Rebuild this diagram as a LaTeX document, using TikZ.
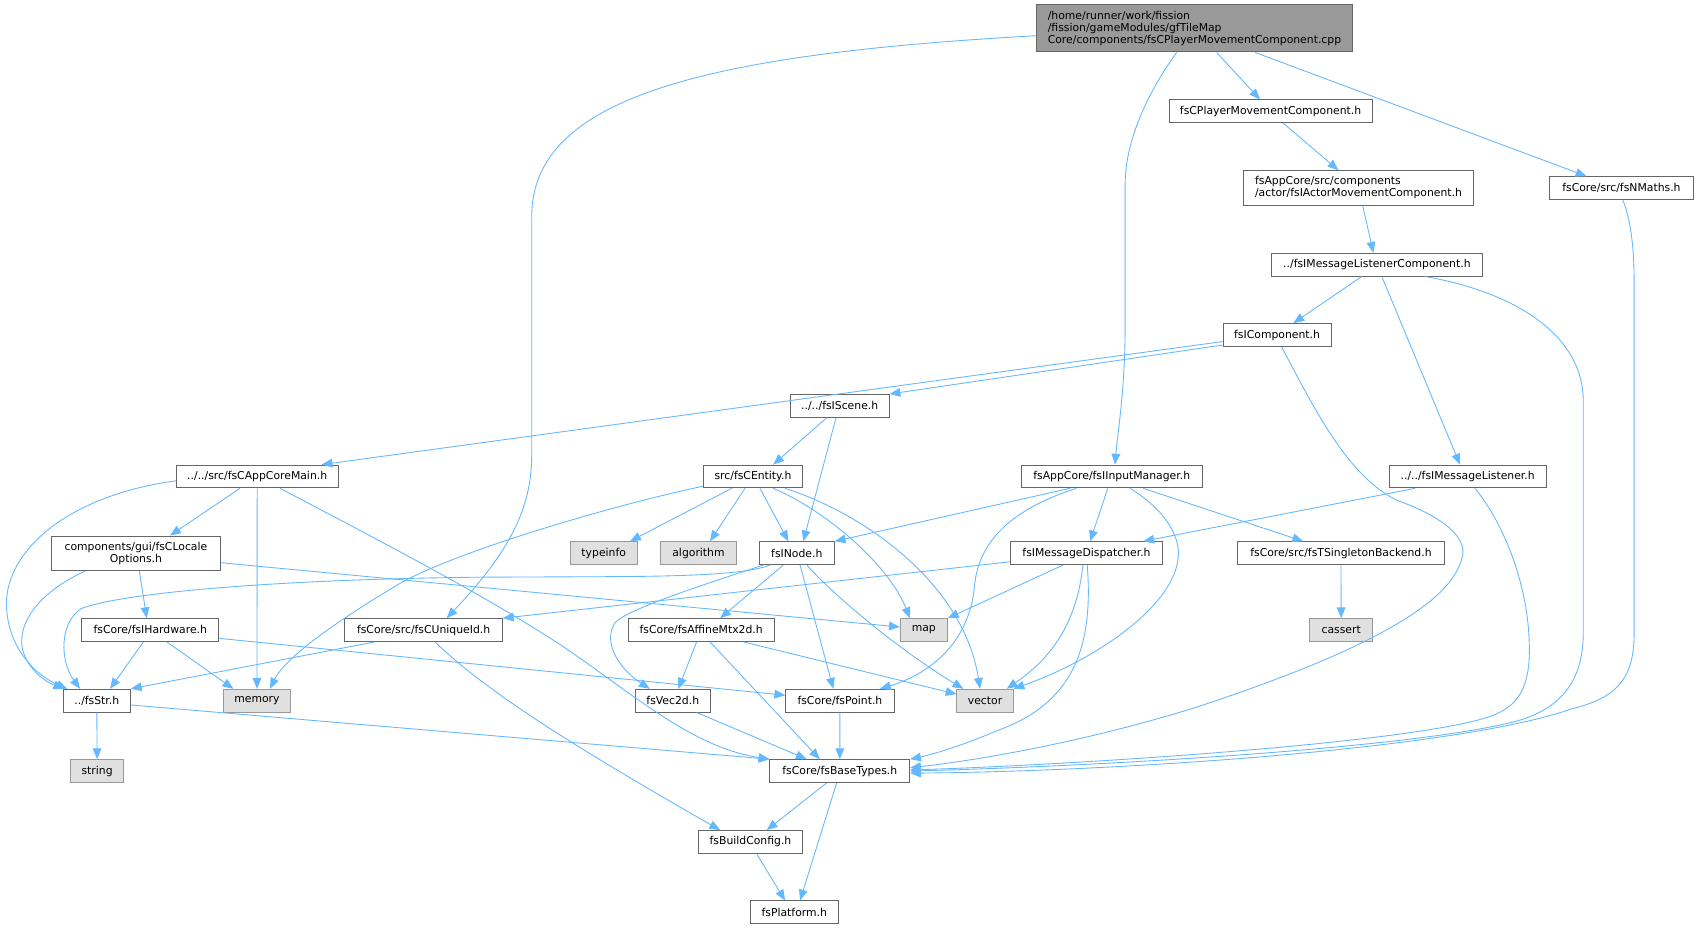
\documentclass[tikz,border=0pt]{standalone}
\usepackage{fontspec}
\setmainfont{DejaVu Sans}
\usetikzlibrary{arrows.meta}
\definecolor{edgec}{HTML}{63B8FF}
\definecolor{bord}{HTML}{666666}
\definecolor{extb}{HTML}{999999}
\definecolor{extf}{HTML}{E0E0E0}
\definecolor{rootf}{HTML}{999999}
\begin{document}
\begin{tikzpicture}[x=1pt,y=-1pt,
  box/.style={draw=bord, fill=white, line width=0.9pt, inner sep=0pt, minimum height=21pt, font=\fontsize{10}{11.2}\selectfont},
  ext/.style={box, draw=extb, fill=extf},
  dep/.style={draw=edgec, line width=0.8pt, -{Triangle[length=10pt,width=8pt]}}]
\fill[white] (0,0) rectangle (1568,858);
\useasboundingbox (0,0) rectangle (1568,858);
% nodes
\node[box, fill=rootf, align=left, minimum width=292pt, minimum height=43.4pt] (root) at (1103,26.3) {/home/runner/work/fission\\/fission/gameModules/gfTileMap\\Core/components/fsCPlayerMovementComponent.cpp};
\node[box, minimum width=187.5pt] (cpmc) at (1173.3,102.8) {fsCPlayerMovementComponent.h};
\node[box, align=left, minimum width=212pt, minimum height=31.7pt] (iamc) at (1254.5,173.5) {fsAppCore/src/components\\/actor/fsIActorMovementComponent.h};
\node[box, minimum width=132.7pt] (nmaths) at (1497.3,173.7) {fsCore/src/fsNMaths.h};
\node[box, minimum width=194.5pt] (imlc) at (1271.5,244.4) {../fsIMessageListenerComponent.h};
\node[box, minimum width=99.7pt] (icomp) at (1179.3,309.4) {fsIComponent.h};
\node[box, minimum width=91.2pt] (iscene) at (775.4,374.8) {../../fsIScene.h};
\node[box, minimum width=149.3pt] (appmain) at (237.5,440) {../../src/fsCAppCoreMain.h};
\node[box, minimum width=91.7pt] (centity) at (695.3,440) {src/fsCEntity.h};
\node[box, minimum width=167pt] (iinput) at (1026.6,440) {fsAppCore/fsIInputManager.h};
\node[box, minimum width=145.3pt] (imlis) at (1355.3,440) {../../fsIMessageListener.h};
\node[box, align=center, minimum width=155.5pt, minimum height=32pt] (locale) at (125.5,511) {components/gui/fsCLocale\\Options.h};
\node[ext, minimum width=61.5pt] (typeinfo) at (557.5,510.8) {typeinfo};
\node[ext, minimum width=69.3pt] (algorithm) at (645,510.8) {algorithm};
\node[box, minimum width=69.2pt] (inode) at (735.8,510.8) {fsINode.h};
\node[box, minimum width=140.7pt] (idisp) at (1003.3,510.8) {fsIMessageDispatcher.h};
\node[box, minimum width=191.4pt] (tsing) at (1238.3,510.8) {fsCore/src/fsTSingletonBackend.h};
\node[box, minimum width=126.8pt] (ihw) at (138.8,581.8) {fsCore/fsIHardware.h};
\node[box, minimum width=145.3pt] (uid) at (391.2,581.8) {fsCore/src/fsCUniqueId.h};
\node[box, minimum width=134.6pt] (affine) at (647.5,581.8) {fsCore/fsAffineMtx2d.h};
\node[ext, minimum width=43.4pt] (map) at (853.1,581.8) {map};
\node[ext, minimum width=58.2pt] (cassert) at (1238.5,581.8) {cassert};
\node[box, minimum width=61.9pt] (str) at (89.4,647) {../fsStr.h};
\node[ext, minimum width=61.5pt] (memory) at (237.3,647) {memory};
\node[box, minimum width=69.3pt] (vec2d) at (621.3,647) {fsVec2d.h};
\node[box, minimum width=100.1pt] (point) at (775.6,647) {fsCore/fsPoint.h};
\node[ext, minimum width=51.8pt] (vector) at (909.6,647) {vector};
\node[ext, minimum width=49.5pt] (string) at (89.7,712) {string};
\node[box, minimum width=129pt] (bt) at (775.5,712) {fsCore/fsBaseTypes.h};
\node[box, minimum width=96.3pt] (bcfg) at (693,777.5) {fsBuildConfig.h};
\node[box, minimum width=81pt] (plat) at (733.5,842.5) {fsPlatform.h};
% edges
\draw[dep] ([xshift=20.5pt]root.south) -- ([xshift=-9.8pt]cpmc.north);
\draw[dep] ([xshift=56pt]root.south) -- ([xshift=-32.3pt]nmaths.north);
\draw[dep] ([xshift=-16.4pt]root.south) .. controls (1060,85) and (1039,130) .. (1039,170) -- (1039,300) .. controls (1039,360) and (1032,400) .. ([xshift=3pt]iinput.north);
\draw[dep] ([yshift=-6.7pt]root.west) .. controls (650,50) and (491,90) .. (491,200) -- (491,420) .. controls (491,470) and (470,510) .. ([xshift=21.3pt]uid.north);
\draw[dep] ([xshift=11.7pt]cpmc.south) -- ([xshift=-18.6pt]iamc.north);
\draw[dep] ([xshift=3.8pt]iamc.south) -- ([xshift=-3.3pt]imlc.north);
\draw[dep] ([xshift=-14.1pt]imlc.south) -- ([xshift=15pt]icomp.north);
\draw[dep] ([xshift=4.5pt]imlc.south) -- ([xshift=-7.1pt]imlis.north);
\draw[dep] ([xshift=44.5pt]imlc.south) .. controls (1400,270) and (1462,310) .. (1462,370) -- (1462,585) .. controls (1462,630) and (1440,655) .. (1400,666) .. controls (1300,692) and (1000,708) .. (bt.east);
\draw[dep] ([xshift=1.2pt]nmaths.south) .. controls (1505,200) and (1509,225) .. (1509,260) -- (1509,585) .. controls (1509,630) and (1490,645) .. (1450,655) .. controls (1350,690) and (1050,712) .. ([yshift=-2pt]bt.east);
\draw[dep] ([yshift=-9.2pt]icomp.west) -- (iscene.north east);
\draw[dep] ([yshift=-6pt]icomp.west) -- ([xshift=59.5pt]appmain.north);
\draw[dep] ([xshift=4.2pt]icomp.south) .. controls (1215,380) and (1245,440) .. (1290,462) .. controls (1340,480) and (1355,500) .. (1350,515) .. controls (1340,560) and (1250,605) .. (1108,652) .. controls (1020,680) and (920,700) .. ([yshift=3pt]bt.east);
\draw[dep] ([xshift=-12pt]iscene.south) -- ([xshift=18.7pt]centity.north);
\draw[dep] ([xshift=-3.4pt]iscene.south) -- ([xshift=6pt]inode.north);
\draw[dep] ([xshift=-15.9pt]appmain.south) -- ([xshift=31.5pt]locale.north);
\draw[dep] (appmain.south) -- (memory.north);
\draw[dep] ([yshift=-4pt]appmain.west) .. controls (60,458) and (6,510) .. (6,557) .. controls (6,595) and (30,622) .. ([xshift=-27.4pt]str.north);
\draw[dep] ([xshift=21.1pt]appmain.south) .. controls (400,525) and (460,558) .. (520,597) .. controls (590,645) and (640,690) .. (bt.north west);
\draw[dep] ([xshift=-19.6pt]centity.south) -- ([xshift=24.3pt]typeinfo.north);
\draw[dep] ([xshift=-7.3pt]centity.south) -- ([xshift=10.6pt]algorithm.north);
\draw[dep] ([xshift=6.5pt]centity.south) -- ([xshift=-7.8pt]inode.north);
\draw[dep] ([xshift=18.7pt]centity.south) .. controls (760,470) and (820,520) .. ([xshift=-12.8pt]map.north);
\draw[dep] ([xshift=29.7pt]centity.south) .. controls (800,475) and (890,540) .. ([xshift=-4.6pt]vector.north);
\draw[dep] ([yshift=-9pt]centity.west) .. controls (560,468) and (420,510) .. (369.4,538.7) .. controls (300,580) and (262,610) .. ([xshift=12pt]memory.north);
\draw[dep] ([xshift=-38.6pt]iinput.south) -- (inode.north east);
\draw[dep] ([xshift=-3.6pt]iinput.south) -- ([xshift=3.3pt]idisp.north);
\draw[dep] ([xshift=29.1pt]iinput.south) -- ([xshift=-34.8pt]tsing.north);
\draw[dep] ([xshift=16.9pt]iinput.south) .. controls (1075,470) and (1090,495) .. (1088,514) .. controls (1085,560) and (1010,610) .. (vector.north east);
\draw[dep] ([xshift=-32.6pt]iinput.south) .. controls (950,465) and (905,490) .. (900,540) .. controls (895,600) and (850,625) .. ([xshift=37pt]point.north);
\draw[dep] ([xshift=-48.6pt]imlis.south) -- ([xshift=52.4pt]idisp.north);
\draw[dep] ([xshift=6.7pt]imlis.south) .. controls (1390,485) and (1410,540) .. (1412,590) .. controls (1414,630) and (1405,650) .. (1380,660) .. controls (1320,685) and (1000,706) .. ([yshift=1pt]bt.east);
\draw[dep] ([xshift=3.2pt]locale.south) -- ([xshift=-3.3pt]ihw.north);
\draw[dep] ([xshift=-47pt]locale.south) .. controls (40,545) and (20,570) .. (20,592) .. controls (20,612) and (38,628) .. ([xshift=-30pt]str.north);
\draw[dep] ([yshift=-8.6pt]locale.east) -- ([yshift=2.8pt]map.west);
\draw[dep] ([xshift=-24.8pt]inode.south) .. controls (690,530) and (640,532) .. (566,532.5) -- (443,533) .. controls (250,535) and (110,548) .. (75,562) .. controls (55,575) and (55,610) .. ([xshift=-15.5pt]str.north);
\draw[dep] ([xshift=-12.4pt]inode.south) -- ([xshift=17.5pt]affine.north);
\draw[dep] ([xshift=-31pt]inode.south) .. controls (650,540) and (580,562) .. (568,575) .. controls (555,595) and (575,620) .. ([xshift=-21.3pt]vec2d.north);
\draw[dep] ([xshift=3pt]inode.south) -- ([xshift=-6.1pt]point.north);
\draw[dep] ([xshift=9.2pt]inode.south) .. controls (770,550) and (830,600) .. ([xshift=-20pt]vector.north);
\draw[dep] ([yshift=-8pt]idisp.west) -- (uid.north east);
\draw[dep] ([xshift=-21.5pt]idisp.south) -- (map.north east);
\draw[dep] ([xshift=-3.3pt]idisp.south) .. controls (995,570) and (975,605) .. ([xshift=20pt]vector.north);
\draw[dep] ([xshift=0.7pt]idisp.south) .. controls (1010,600) and (990,650) .. (920,675) .. controls (890,688) and (860,697) .. (bt.north east);
\draw[dep] (tsing.south) -- (cassert.north);
\draw[dep] ([xshift=-6.4pt]ihw.south) -- ([xshift=12.2pt]str.north);
\draw[dep] ([xshift=15.2pt]ihw.south) -- ([xshift=-21.8pt]memory.north);
\draw[dep] ([yshift=-7.7pt]ihw.east) -- ([yshift=5pt]point.west);
\draw[dep] ([xshift=-44.9pt]uid.south) -- (str.north east);
\draw[dep] ([xshift=10.5pt]uid.south) .. controls (450,640) and (540,695) .. ([xshift=-28pt]bcfg.north);
\draw[dep] ([xshift=-4.2pt]affine.south) -- ([xshift=5.1pt]vec2d.north);
\draw[dep] ([xshift=8.1pt]affine.south) -- ([xshift=-18.5pt]bt.north);
\draw[dep] ([xshift=38.9pt]affine.south) -- ([yshift=6pt]vector.west);
\draw[dep] (str.south) -- (string.north);
\draw[dep] ([yshift=-4pt]str.east) -- (bt.north west);
\draw[dep] ([xshift=22pt]vec2d.south) -- ([xshift=-30.5pt]bt.north);
\draw[dep] (point.south) -- (bt.north);
\draw[dep] ([xshift=-12.1pt]bt.south) -- ([xshift=15pt]bcfg.north);
\draw[dep] ([xshift=-2.9pt]bt.south) -- ([xshift=5.3pt]plat.north);
\draw[dep] ([xshift=5.7pt]bcfg.south) -- ([xshift=-8.5pt]plat.north);
\end{tikzpicture}
\end{document}
